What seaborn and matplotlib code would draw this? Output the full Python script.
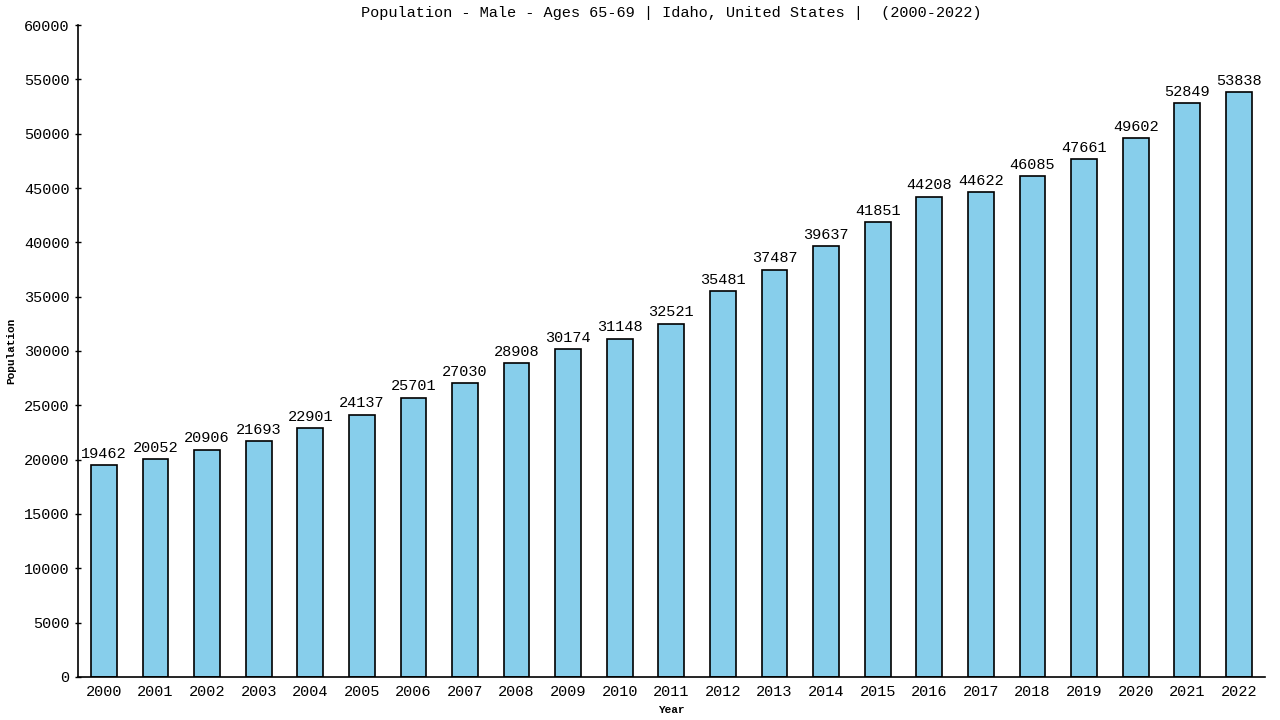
import matplotlib
matplotlib.use("Agg")
import matplotlib.pyplot as plt
import seaborn as sns
import pandas as pd

years = [str(y) for y in range(2000, 2023)]
population = [19462, 20052, 20906, 21693, 22901, 24137, 25701, 27030, 28908, 30174,
              31148, 32521, 35481, 37487, 39637, 41851, 44208, 44622, 46085, 47661,
              49602, 52849, 53838]

df = pd.DataFrame({"Year": years, "Population": population})

sns.set_style("ticks", {"axes.edgecolor": "black", "text.color": "black",
                        "axes.labelcolor": "black", "xtick.color": "black",
                        "ytick.color": "black"})
plt.rcParams['font.family'] = ['Liberation Mono', 'DejaVu Sans Mono']

fig = plt.figure(figsize=(12.8, 7.2), dpi=100)
ax = fig.add_axes([0.061, 0.06, 0.927, 0.905])

sns.barplot(data=df, x="Year", y="Population", color="#87CEEB", width=0.5,
            edgecolor="black", linewidth=1.2, saturation=1, ax=ax)

for i, v in enumerate(population):
    ax.text(i, v + 400, str(v), ha="center", va="bottom", fontsize=11,
            color="black")

ax.set_xlim(-0.5, len(years) - 0.5)
ax.set_ylim(0, 60000)
ax.set_yticks(range(0, 60001, 5000))
ax.tick_params(axis="y", labelsize=11, length=5, width=1, direction="inout",
               colors="black")
ax.tick_params(axis="x", labelsize=11, length=0, pad=6, colors="black")
ax.set_xlabel("Year", fontsize=8, fontweight="bold", labelpad=4, color="black")
ax.set_ylabel("Population", fontsize=8, fontweight="bold", labelpad=6,
              color="black")
ax.set_title("Population - Male - Ages 65-69 | Idaho, United States |  (2000-2022)",
             fontsize=11, pad=6, color="black")
sns.despine(ax=ax)
for s in ["left", "bottom"]:
    ax.spines[s].set_linewidth(1.2)
    ax.spines[s].set_color("black")

fig.savefig("out.png", dpi=100)
